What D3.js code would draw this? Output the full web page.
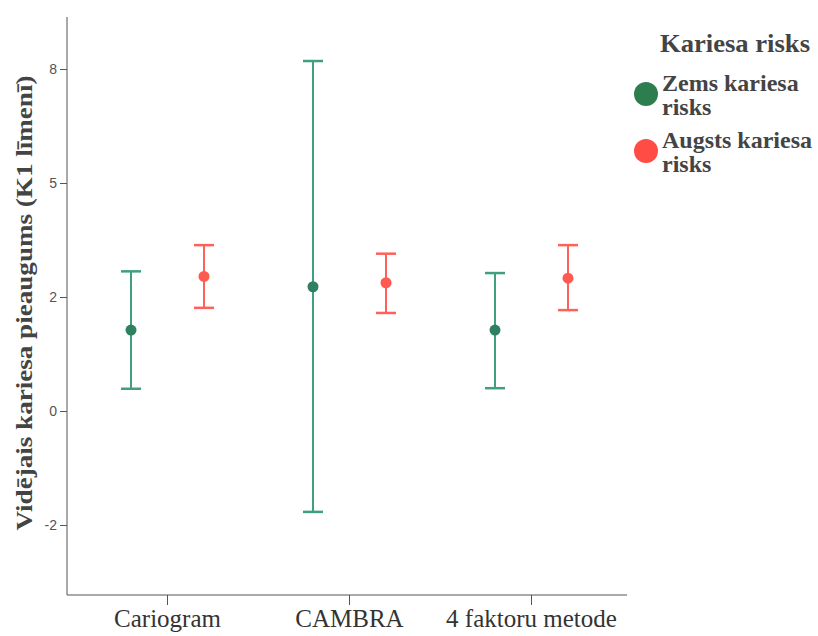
<!DOCTYPE html>
<html lang="lv">
  <head>
    <meta charset="utf-8">
    <title>Kariesa pieaugums</title>
    <style>
      body { margin: 0; background: #fff; }
      .axis path, .axis line { stroke: #555; }
      .axis text { fill: #555; font-family: "Liberation Sans", Arial, sans-serif; font-size: 14px; }
    </style>
  </head>
  <body>
    <div id="chart"></div>
    <script src="https://cdn.jsdelivr.net/npm/d3@7"></script>
    <script>
      // dati
      var methods = ["Cariogram", "CAMBRA", "4 faktoru metode"];
      var groups = ["Zems kariesa risks", "Augsts kariesa risks"];
      var lowMean  = [1.42, 2.18, 1.42];
      var lowLo    = [0.39, -1.77, 0.40];
      var lowHi    = [2.45, 6.14, 2.42];
      var highMean = [2.36, 2.25, 2.33];
      var highLo   = [1.81, 1.72, 1.77];
      var highHi   = [2.91, 2.76, 2.91];
      var yTicks = [-2, 0, 2, 4, 6];
      var yTickLabels = ["-2", "0", "2", "5", "8"];

      var width = 818, height = 636;
      var serif = "'Liberation Serif', 'Times New Roman', serif";
      var colors = { bar: ["#3f9f80", "#ff6058"], dot: ["#2f8060", "#ff5a50"], legend: ["#2e7d4f", "#ff4d45"] };

      var svg = d3.select("#chart").append("svg")
          .attr("width", width)
          .attr("height", height);

      var y = d3.scaleLinear().domain([-2, 6]).range([525, 69]);
      var x = d3.scalePoint().domain(methods).range([167, 531]);
      var offset = d3.scalePoint().domain(groups).range([-36, 37]);

      // asis
      svg.append("line")
          .attr("x1", 67).attr("x2", 67)
          .attr("y1", 17).attr("y2", 595)
          .attr("stroke", "#555");
      svg.append("line")
          .attr("x1", 67).attr("x2", 627)
          .attr("y1", 595).attr("y2", 595)
          .attr("stroke", "#555");

      var yAxis = svg.append("g")
          .attr("class", "axis")
          .attr("transform", "translate(67,0)")
          .call(d3.axisLeft(y).tickValues(yTicks).tickSize(7).tickPadding(3)
            .tickFormat(function(d, i) { return yTickLabels[i]; }));
      yAxis.select(".domain").remove();

      var xAxis = svg.append("g")
          .attr("class", "axis")
          .attr("transform", "translate(0,595)")
          .call(d3.axisBottom(x).tickSize(10).tickPadding(6));
      xAxis.select(".domain").remove();
      xAxis.selectAll("text").attr("dy", "0.62em")
          .style("font-size", "25px").style("fill", "#333")
          .style("font-family", serif);

      svg.append("text")
          .attr("transform", "translate(32,303) rotate(-90)")
          .attr("text-anchor", "middle")
          .attr("textLength", 455)
          .attr("lengthAdjust", "spacingAndGlyphs")
          .style("font-family", serif)
          .style("font-weight", "bold")
          .style("font-size", "23px")
          .style("fill", "#444")
          .text("Vidējais kariesa pieaugums (K1 līmenī)");

      // kļūdu joslas
      var rows = [];
      methods.forEach(function(m, i) {
        rows.push({ m: m, g: 0, mean: lowMean[i], lo: lowLo[i], hi: lowHi[i] });
        rows.push({ m: m, g: 1, mean: highMean[i], lo: highLo[i], hi: highHi[i] });
      });

      var bars = svg.selectAll(".err").data(rows).enter().append("g")
          .attr("class", "err")
          .attr("transform", function(d) { return "translate(" + (x(d.m) + offset(groups[d.g])) + ",0)"; });

      bars.append("line")
          .attr("y1", function(d) { return y(d.lo); })
          .attr("y2", function(d) { return y(d.hi); })
          .attr("stroke", function(d) { return colors.bar[d.g]; })
          .attr("stroke-width", 2);
      bars.selectAll(".cap").data(function(d) { return [d.lo, d.hi].map(function(v) { return { v: v, g: d.g }; }); })
        .enter().append("line")
          .attr("class", "cap")
          .attr("x1", -10).attr("x2", 10)
          .attr("y1", function(d) { return y(d.v); })
          .attr("y2", function(d) { return y(d.v); })
          .attr("stroke", function(d) { return colors.bar[d.g]; })
          .attr("stroke-width", 2.5);
      bars.append("circle")
          .attr("cy", function(d) { return y(d.mean); })
          .attr("r", 5.5)
          .attr("fill", function(d) { return colors.dot[d.g]; });

      // leģenda
      var legend = svg.append("g").attr("transform", "translate(660,0)")
          .style("font-family", serif)
          .style("fill", "#444");
      legend.append("text")
          .attr("x", 0).attr("y", 52)
          .attr("textLength", 150)
          .attr("lengthAdjust", "spacingAndGlyphs")
          .style("font-weight", "bold").style("font-size", "25px")
          .text("Kariesa risks");

      var legendLines = [["Zems kariesa", "risks"], ["Augsts kariesa", "risks"]];
      var item = legend.selectAll(".item").data(groups).enter().append("g")
          .attr("class", "item")
          .attr("transform", function(d, i) { return "translate(0," + (i * 57) + ")"; });
      item.append("circle")
          .attr("cx", -14).attr("cy", 94).attr("r", 12)
          .attr("fill", function(d, i) { return colors.legend[i]; });
      item.append("text")
          .style("font-weight", "bold").style("font-size", "24px")
          .selectAll("tspan").data(function(d, i) { return legendLines[i]; })
          .enter().append("tspan")
            .attr("x", 2)
            .attr("y", function(d, j) { return 91 + j * 24; })
            .text(function(d) { return d; });
    </script>
  </body>
</html>
